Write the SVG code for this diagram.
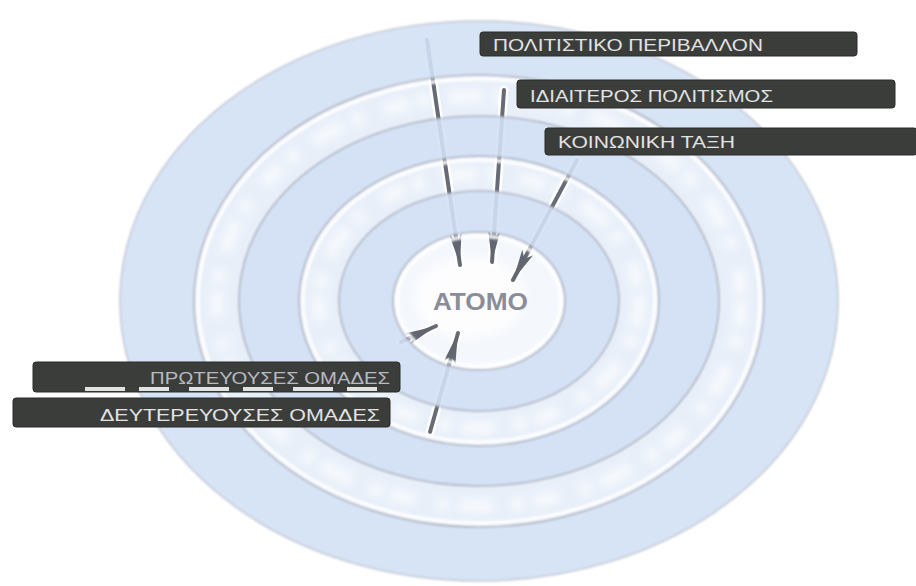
<svg xmlns="http://www.w3.org/2000/svg" width="916" height="586" viewBox="0 0 916 586">
<style>
.gap{fill:#e8eff9}
.band{fill:#d3e1f5;fill-rule:evenodd;opacity:0.9}
.edge{fill:none;stroke:#adb2bf;stroke-width:1.6}
.glow{fill:none;stroke:#ffffff;stroke-width:4;opacity:0.85}
.cloud{fill:none;stroke:#ffffff;stroke-width:14;stroke-dasharray:26 8 14 18 34 10 12 22;opacity:0.6}
.box{fill:#3b3d3a;stroke:#2b2c2a;stroke-width:1}
.lbl{font-family:"Liberation Sans","DejaVu Sans",sans-serif;font-size:16px;fill:#e2e3e4}
.lbl2{font-family:"Liberation Sans","DejaVu Sans",sans-serif;font-size:17px;fill:#e2e3e4}
.shaft{stroke:#676b76;stroke-width:4;fill:none;stroke-linecap:round}
.halo{stroke:#ffffff;stroke-width:9;fill:none;stroke-linecap:round}
.center{font-family:"Liberation Sans","DejaVu Sans",sans-serif;font-size:23px;font-weight:bold;fill:#8a8d99}
</style>
<defs>
<marker id="head" markerUnits="userSpaceOnUse" markerWidth="34" markerHeight="14" refX="31" refY="7" orient="auto">
<path d="M0,1 L31,7 L0,13 L7,7 Z" fill="#626671"/>
</marker>
<filter id="soft" x="-5%" y="-5%" width="110%" height="110%"><feGaussianBlur stdDeviation="1.3"/></filter>
<filter id="blur" x="-5%" y="-5%" width="110%" height="110%"><feGaussianBlur stdDeviation="4"/></filter>
</defs>
<rect width="916" height="586" fill="#ffffff"/>
<g id="rings-base" filter="url(#soft)">
<ellipse class="gap" cx="479" cy="301" rx="285" ry="226"/>
<ellipse cx="479" cy="301" rx="86" ry="69" fill="#f4f7fc"/>
</g>
<g id="clouds" filter="url(#blur)">
<ellipse class="cloud" cx="479" cy="301" rx="262" ry="205"/>
<ellipse class="cloud" cx="479" cy="301" rx="160" ry="127"/>
<ellipse cx="470" cy="298" rx="55" ry="40" fill="#ffffff" opacity="0.8"/>
</g>
<g id="connectors">
<path class="halo" d="M427,40 L460,265"/>
<path class="halo" d="M504,90 L492,262"/>
<path class="halo" d="M577,160 L513,280"/>
<path class="halo" d="M401,342 L436,326"/>
<path class="halo" d="M430,432 L458,333"/>
<path class="shaft" d="M427,40 L460,265" marker-end="url(#head)"/>
<path class="shaft" d="M504,90 L492,262" marker-end="url(#head)"/>
<path class="shaft" d="M577,160 L513,280" marker-end="url(#head)"/>
<path class="shaft" d="M401,342 L436,326" marker-end="url(#head)"/>
<path class="shaft" d="M430,432 L458,333" marker-end="url(#head)"/>
</g>
<g id="rings" filter="url(#soft)">
<path class="band" d="M120,301 a359,280 0 1,0 718,0 a359,280 0 1,0 -718,0 Z M194,301 a285,226 0 1,0 570,0 a285,226 0 1,0 -570,0 Z"/>
<path class="band" d="M239,301 a240,185 0 1,0 480,0 a240,185 0 1,0 -480,0 Z M299,301 a180,145 0 1,0 360,0 a180,145 0 1,0 -360,0 Z"/>
<path class="band" d="M339,301 a140,110 0 1,0 280,0 a140,110 0 1,0 -280,0 Z M393,301 a86,69 0 1,0 172,0 a86,69 0 1,0 -172,0 Z"/>
<ellipse class="glow" cx="479" cy="301" rx="281" ry="222"/>
<ellipse class="glow" cx="479" cy="301" rx="176" ry="141"/>
<ellipse class="glow" cx="479" cy="301" rx="82" ry="65"/>
<ellipse class="edge" cx="479" cy="301" rx="359" ry="280" style="stroke:#c4c9d4"/>
<ellipse class="edge" cx="479" cy="301" rx="285" ry="226"/>
<ellipse class="edge" cx="479" cy="301" rx="240" ry="185"/>
<ellipse class="edge" cx="479" cy="301" rx="180" ry="145"/>
<ellipse class="edge" cx="479" cy="301" rx="140" ry="110"/>
<ellipse class="edge" cx="479" cy="301" rx="86" ry="69"/>
</g>
<g id="atomo">
<text class="center" x="433" y="310" textLength="95" lengthAdjust="spacingAndGlyphs">ΑΤΟΜΟ</text>
</g>
<g id="politistiko-perivallon">
<rect class="box" x="480" y="32" width="377" height="24" rx="3"/>
<text class="lbl" x="493" y="51" textLength="270" lengthAdjust="spacingAndGlyphs">ΠΟΛΙΤΙΣΤΙΚΟ ΠΕΡΙΒΑΛΛΟΝ</text>
</g>
<g id="idiaiteros-politismos">
<rect class="box" x="517" y="80" width="378" height="28" rx="3"/>
<text class="lbl" x="530" y="102" textLength="243" lengthAdjust="spacingAndGlyphs">ΙΔΙΑΙΤΕΡΟΣ ΠΟΛΙΤΙΣΜΟΣ</text>
</g>
<g id="koinoniki-taxi">
<rect class="box" x="545" y="128" width="372" height="27" rx="3"/>
<text class="lbl" x="558" y="148" textLength="177" lengthAdjust="spacingAndGlyphs">ΚΟΙΝΩΝΙΚΗ ΤΑΞΗ</text>
</g>
<g id="protevouses-omades">
<rect class="box" x="33" y="362" width="367" height="30" rx="3"/>
<text class="lbl2" x="150" y="384" textLength="240" lengthAdjust="spacingAndGlyphs" style="fill:#b7bac2">ΠΡΩΤΕΥΟΥΣΕΣ ΟΜΑΔΕΣ</text>
<path d="M85,389 L380,389" stroke="#ffffff" stroke-width="4" stroke-dasharray="40,14,30,20" opacity="0.85"/>
</g>
<g id="defterevouses-omades">
<rect class="box" x="13" y="398" width="377" height="29" rx="3"/>
<text class="lbl2" x="100" y="421" textLength="280" lengthAdjust="spacingAndGlyphs">ΔΕΥΤΕΡΕΥΟΥΣΕΣ ΟΜΑΔΕΣ</text>
</g>
</svg>
